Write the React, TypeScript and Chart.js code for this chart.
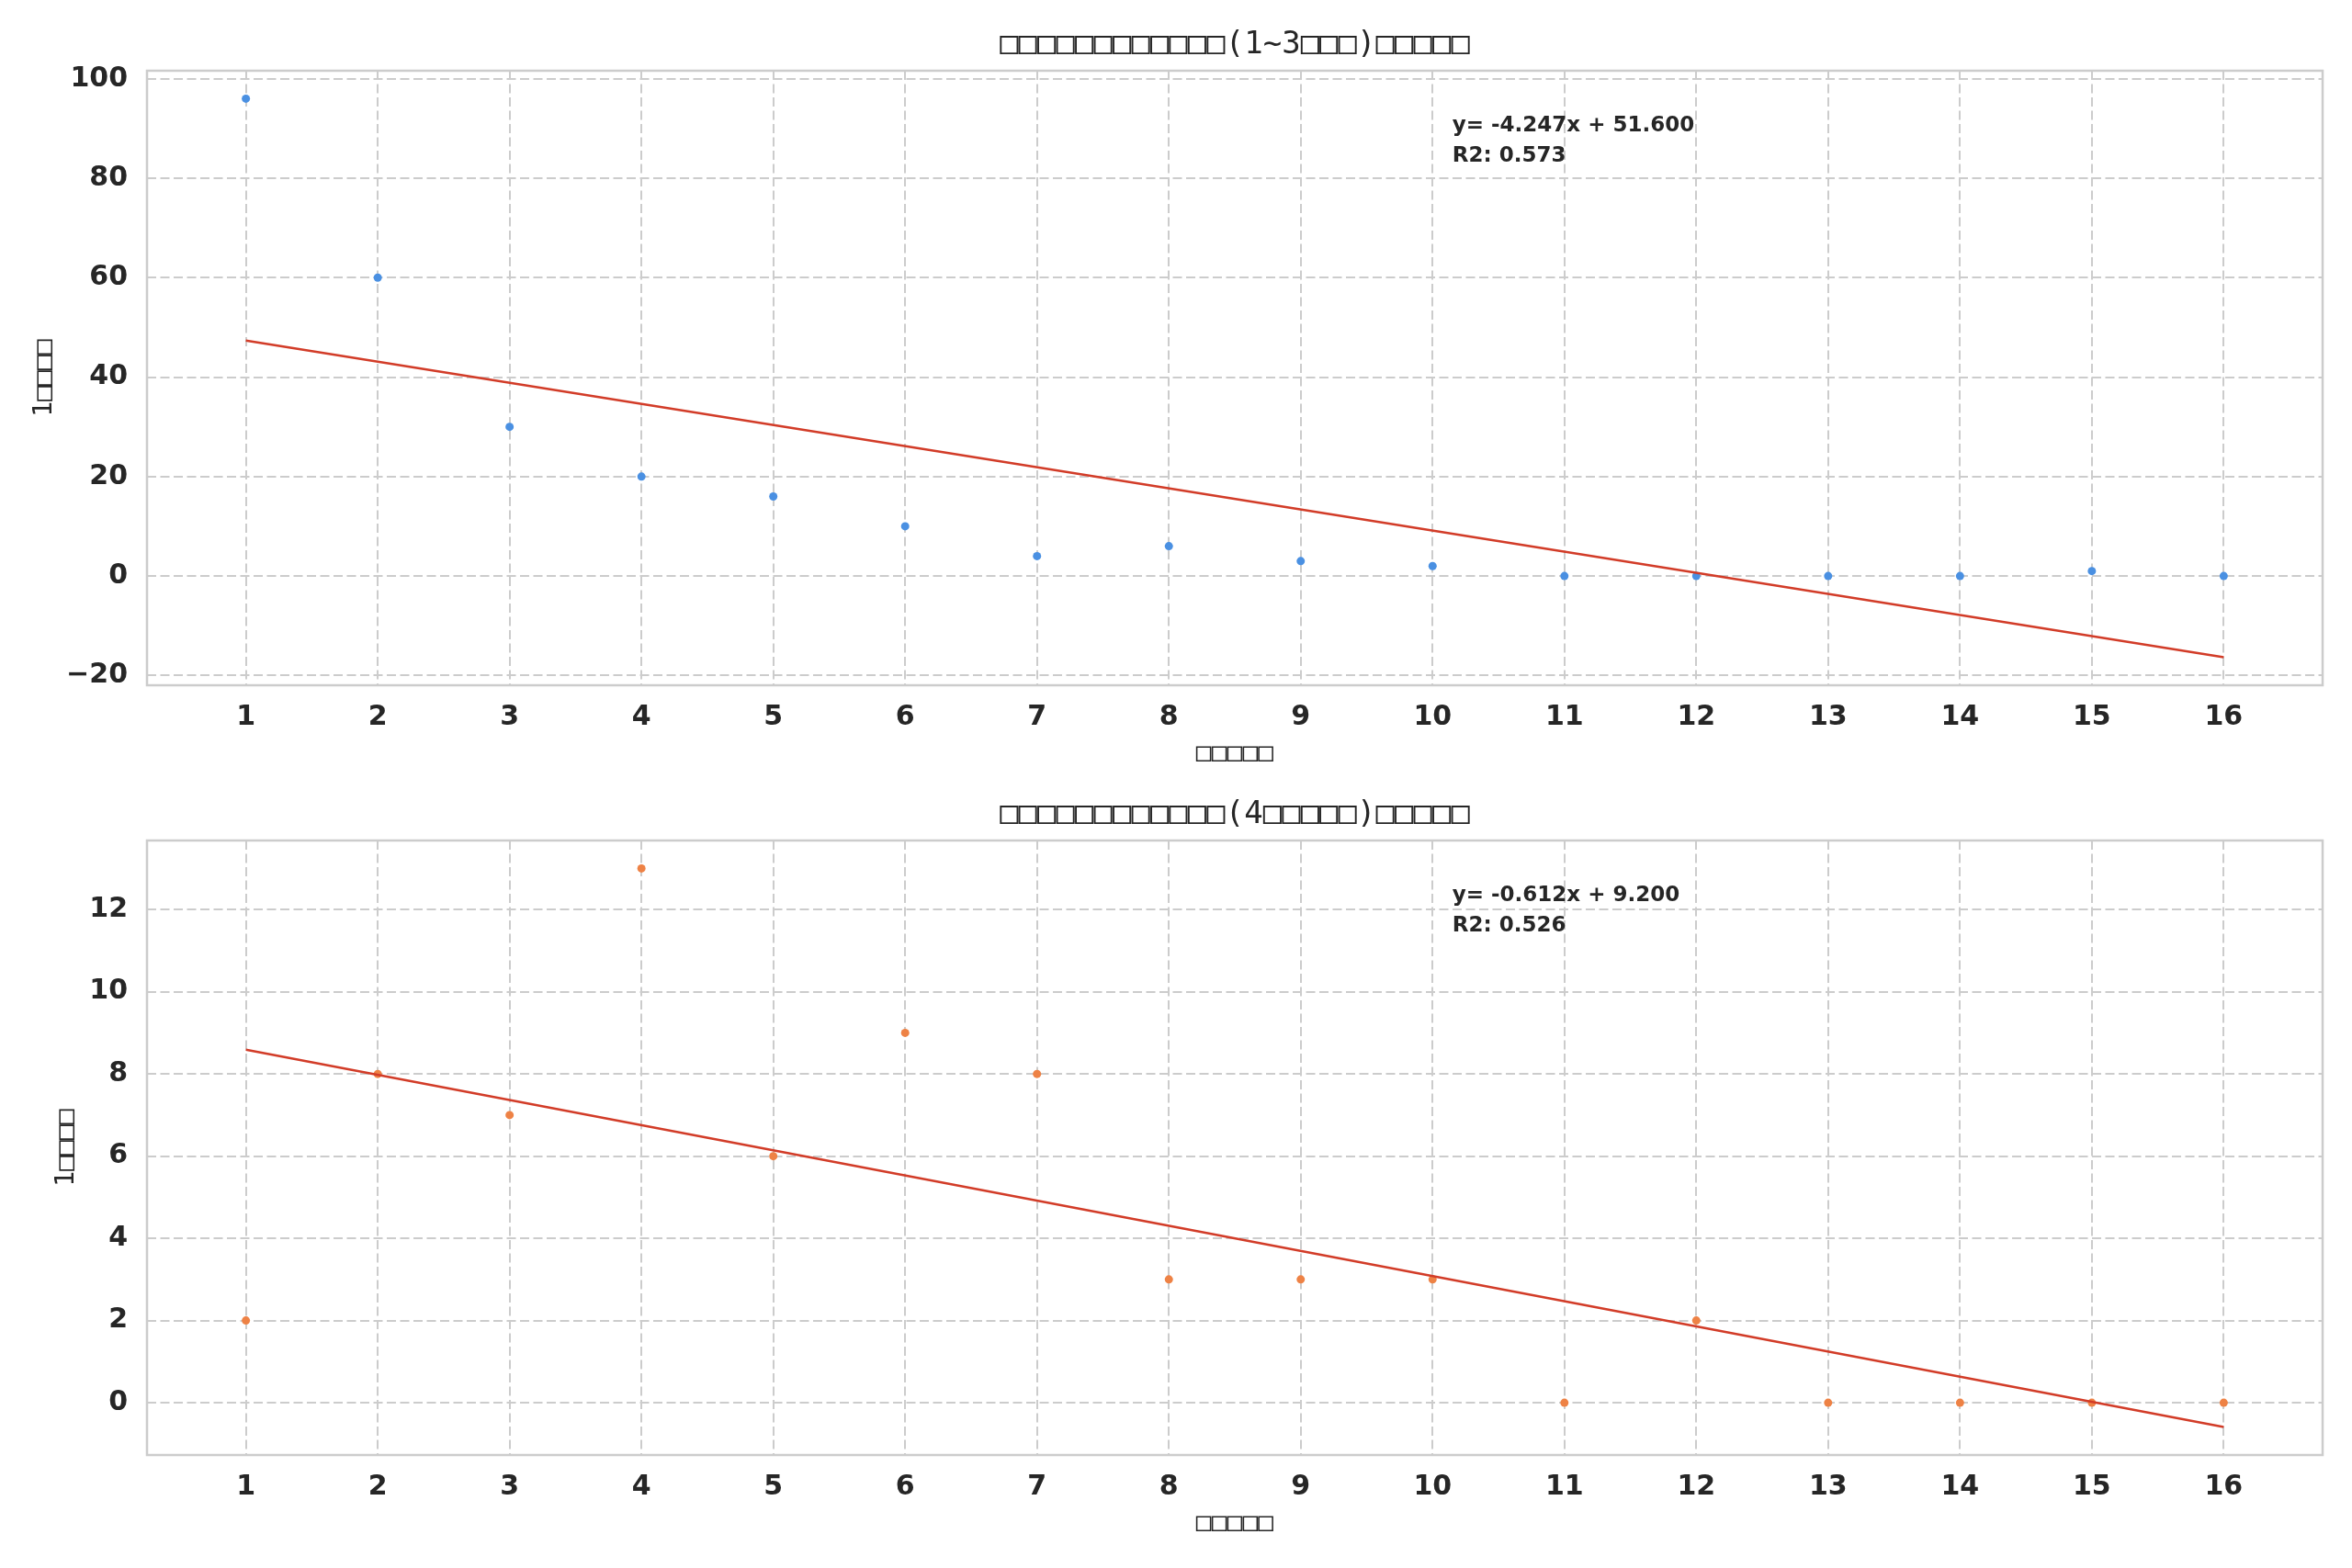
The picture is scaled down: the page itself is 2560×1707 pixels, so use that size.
import { useEffect, useRef } from "react"
import { Chart, registerables } from "chart.js"

Chart.register(...registerables)

// gap sizes on the x axis
const gapValues = [1, 2, 3, 4, 5, 6, 7, 8, 9, 10, 11, 12, 13, 14, 15, 16]
// counts for the two groups
const shortCounts = [96, 60, 30, 20, 16, 10, 4, 6, 3, 2, 0, 0, 0, 0, 1, 0]
const longCounts = [2, 8, 7, 13, 6, 9, 8, 3, 3, 3, 0, 2, 0, 0, 0, 0]

// fitted lines (slope, intercept, r2 as printed in the chart)
const shortFit = [-4.247, 51.6, 0.573]
const longFit = [-0.612, 9.2, 0.526]

const shortYTicks = [-20, 0, 20, 40, 60, 80, 100]
const longYTicks = [0, 2, 4, 6, 8, 10, 12]

const shortTitle = "□□□□□□□□□□□□(1~3□□□)□□□□□"
const longTitle = "□□□□□□□□□□□□(4□□□□□)□□□□□"
const xTitle = "□□□□□"
const yTitle = "1□□□□"

const TEXT = "#262626"
const GRID = "#cccccc"
const FONT = "DejaVu Sans"
// the missing-glyph boxes are narrow, mono keeps them close to that width
const BOX_FONT = '"DejaVu Sans Mono", "DejaVu Sans"'

interface PanelProps {
  title: string
  counts: number[]
  fit: number[]
  yTicks: number[]
  yRange: [number, number]
  color: string
  height: number
  titleTop: number
  yTitleX: number
  bottomPad: number
}

function RegressionPanel(props: PanelProps) {
  const canvasRef = useRef<HTMLCanvasElement>(null)
  const chartRef = useRef<Chart | null>(null)

  useEffect(() => {
    if (!canvasRef.current) return
    if (chartRef.current) chartRef.current.destroy()

    const [slope, intercept, r2] = props.fit
    const first = gapValues[0]
    const last = gapValues[gapValues.length - 1]

    // frame around the plot, like the four spines
    const frame = {
      id: "frame",
      beforeDatasetsDraw(chart: Chart) {
        const { ctx, chartArea } = chart
        ctx.save()
        ctx.strokeStyle = GRID
        ctx.lineWidth = 2.5
        ctx.strokeRect(chartArea.left, chartArea.top, chartArea.right - chartArea.left, chartArea.bottom - chartArea.top)
        ctx.restore()
      },
    }

    // equation text in the upper part
    const equation = {
      id: "equation",
      afterDraw(chart: Chart) {
        const { ctx, chartArea } = chart
        const x = chartArea.left + 0.6 * (chartArea.right - chartArea.left)
        const sign = intercept < 0 ? "-" : "+"
        ctx.save()
        ctx.font = `bold 23px "${FONT}"`
        ctx.fillStyle = TEXT
        ctx.textAlign = "left"
        ctx.textBaseline = "middle"
        ctx.fillText(`y= ${slope.toFixed(3)}x ${sign} ${Math.abs(intercept).toFixed(3)}`, x, chartArea.top + 60)
        ctx.fillText(`R2: ${r2.toFixed(3)}`, x, chartArea.top + 93)
        ctx.restore()
      },
    }

    const xMargin = (last - first) * 0.05

    chartRef.current = new Chart(canvasRef.current, {
      type: "scatter",
      data: {
        datasets: [
          {
            data: [
              { x: first, y: slope * first + intercept },
              { x: last, y: slope * last + intercept },
            ],
            showLine: true,
            borderColor: "#d23c28",
            borderWidth: 2.5,
            pointRadius: 0,
            order: 0,
          },
          {
            data: gapValues.map((g, i) => ({ x: g, y: props.counts[i] })),
            backgroundColor: props.color,
            borderWidth: 0,
            pointRadius: 4.5,
            order: 1,
          },
        ],
      },
      options: {
        animation: false,
        responsive: false,
        devicePixelRatio: 1,
        layout: { padding: { left: 0, right: 32, top: 0, bottom: props.bottomPad } },
        plugins: {
          legend: { display: false },
          tooltip: { enabled: false },
          title: {
            display: true,
            fullSize: false,
            text: props.title,
            color: TEXT,
            font: { family: BOX_FONT, size: 34, weight: "normal", lineHeight: 1.2 },
            padding: { top: props.titleTop - 20.4, bottom: 28 - 20.4 },
          },
        },
        scales: {
          x: {
            type: "linear",
            min: first - xMargin,
            max: last + xMargin,
            afterBuildTicks: (scale: any) => {
              scale.ticks = gapValues.map((v) => ({ value: v }))
            },
            afterFit: (scale: any) => {
              scale.height = 92
            },
            grid: { color: GRID, lineWidth: 2, drawTicks: false },
            border: { display: false, dash: [10, 4.5] },
            ticks: {
              color: TEXT,
              padding: 17,
              maxRotation: 0,
              font: { family: FONT, size: 30, weight: "bold", lineHeight: 1.2 },
            },
            title: {
              display: true,
              text: xTitle,
              color: TEXT,
              font: { family: BOX_FONT, size: 28, lineHeight: 1.2 },
              padding: { top: 5, bottom: 0 },
            },
          },
          y: {
            type: "linear",
            min: props.yRange[0],
            max: props.yRange[1],
            afterBuildTicks: (scale: any) => {
              scale.ticks = props.yTicks.map((v) => ({ value: v }))
            },
            afterFit: (scale: any) => {
              scale.width = 160
            },
            grid: { color: GRID, lineWidth: 2, drawTicks: false },
            border: { display: false, dash: [10, 4.5] },
            ticks: {
              color: TEXT,
              padding: 21,
              font: { family: FONT, size: 30, weight: "bold", lineHeight: 1.2 },
              callback: (v: any) => (Number(v) < 0 ? "\u2212" + Math.abs(Number(v)) : String(v)),
            },
            title: {
              display: true,
              text: yTitle,
              color: TEXT,
              font: { family: BOX_FONT, size: 28, lineHeight: 1.2 },
              padding: { top: props.yTitleX - 16.8, bottom: 0 },
            },
          },
        },
      },
      plugins: [frame, equation],
    })

    return () => {
      if (chartRef.current) {
        chartRef.current.destroy()
        chartRef.current = null
      }
    }
  }, [props])

  return <canvas ref={canvasRef} width={2560} height={props.height} style={{ display: "block" }} />
}

// matplotlib-like autoscale: 5% margin over points and fit line
function autoRange(counts: number[], fit: number[]): [number, number] {
  const a = fit[0] * gapValues[0] + fit[1]
  const b = fit[0] * gapValues[gapValues.length - 1] + fit[1]
  const lo = Math.min(...counts, a, b)
  const hi = Math.max(...counts, a, b)
  const m = (hi - lo) * 0.05
  return [lo - m, hi + m]
}

export default function App() {
  return (
    <div style={{ position: "absolute", left: 0, top: 0, width: 2560, height: 1707, overflow: "hidden", background: "#fff" }}>
      <RegressionPanel
        title={shortTitle}
        counts={shortCounts}
        fit={shortFit}
        yTicks={shortYTicks}
        yRange={autoRange(shortCounts, shortFit)}
        color="#4a90e2"
        height={853}
        titleTop={49}
        yTitleX={49}
        bottomPad={15}
      />
      <RegressionPanel
        title={longTitle}
        counts={longCounts}
        fit={longFit}
        yTicks={longYTicks}
        yRange={autoRange(longCounts, longFit)}
        color="#ee8245"
        height={854}
        titleTop={34}
        yTitleX={73}
        bottomPad={31}
      />
    </div>
  )
}
